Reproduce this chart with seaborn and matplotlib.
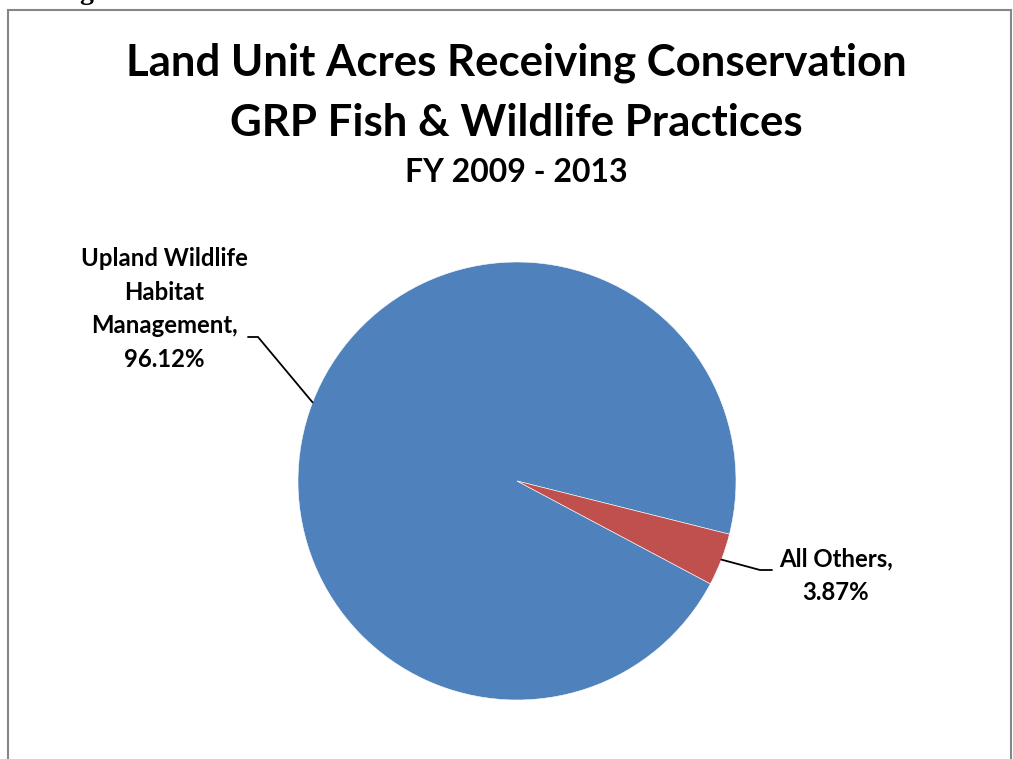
import numpy as np
import seaborn as sns
import matplotlib.pyplot as plt
from matplotlib.patches import Rectangle

# dados do gráfico
categorias = ["Upland Wildlife\nHabitat\nManagement,", "All Others,"]
percentuais = [96.12, 3.87]
cores = ["#4F81BD", "#C0504D"]

titulo = ["Land Unit Acres Receiving Conservation", "GRP Fish & Wildlife Practices"]
subtitulo = "FY 2009 - 2013"

sns.set_theme(style="white")
plt.rcParams['font.family'] = ['Lato', 'DejaVu Sans']

W, H = 1013, 759
fig = plt.figure(figsize=(W / 100, H / 100), dpi=100)

# eixo ocupa a figura toda, 1 unidade = raio da pizza (219 px), centro em (517, 481)
R = 219.0
cx, cy = 517.0, 481.0
ax = fig.add_axes([0, 0, 1, 1])

wedges, _ = ax.pie(percentuais, colors=cores, startangle=-28, counterclock=False,
                   radius=1.0, center=(0, 0), frame=True,
                   wedgeprops=dict(edgecolor="white", linewidth=0.4))
ax.set_xlim(-cx / R, (W - cx) / R)
ax.set_ylim((cy - H) / R, cy / R)
ax.axis("off")


def px(x, y):
    return (x - cx) / R, (cy - y) / R


# rótulos com linhas de chamada
rotulos = [f"{c}\n{p:.2f}%" for c, p in zip(categorias, percentuais)]
pos_texto = [(164, 309), (836, 576)]
cotovelos = [((258, 337), (248, 337)), ((760, 570), (772, 570))]

for w, txt, (tx, ty), (cot, fim) in zip(wedges, rotulos, pos_texto, cotovelos):
    ang = np.deg2rad((w.theta1 + w.theta2) / 2)
    ax0, ay0 = np.cos(ang), np.sin(ang)
    ex, ey = px(*cot)
    fx, fy = px(*fim)
    ax.plot([ax0, ex, fx], [ay0, ey, fy], color="black", lw=1.3, solid_joinstyle="miter")
    ax.text(*px(tx, ty), txt, ha="center", va="center", fontsize=17.2,
            fontweight="bold", linespacing=1.55, color="black")

# títulos
for linha, yp in zip(titulo, [63, 123]):
    fig.text(516 / W, 1 - yp / H, linha, ha="center", va="center", fontsize=31.5,
             fontweight="bold", color="black")
fig.text(516 / W, 1 - 173 / H, subtitulo, ha="center", va="center", fontsize=23,
         fontweight="bold", color="black")

# moldura do gráfico
fig.patches.append(Rectangle((8 / W, -0.1), (W - 10) / W, 1.1 - 10 / H,
                             transform=fig.transFigure, fill=False,
                             edgecolor="#868686", lw=1.5))

# resto do texto de cima, cortado
fig.text(79 / W, 1 + 1 / H, "g", ha="left", va="baseline", fontsize=20,
         fontweight="bold", family="Liberation Serif", color="black")

fig.savefig("out.png", dpi=100)
